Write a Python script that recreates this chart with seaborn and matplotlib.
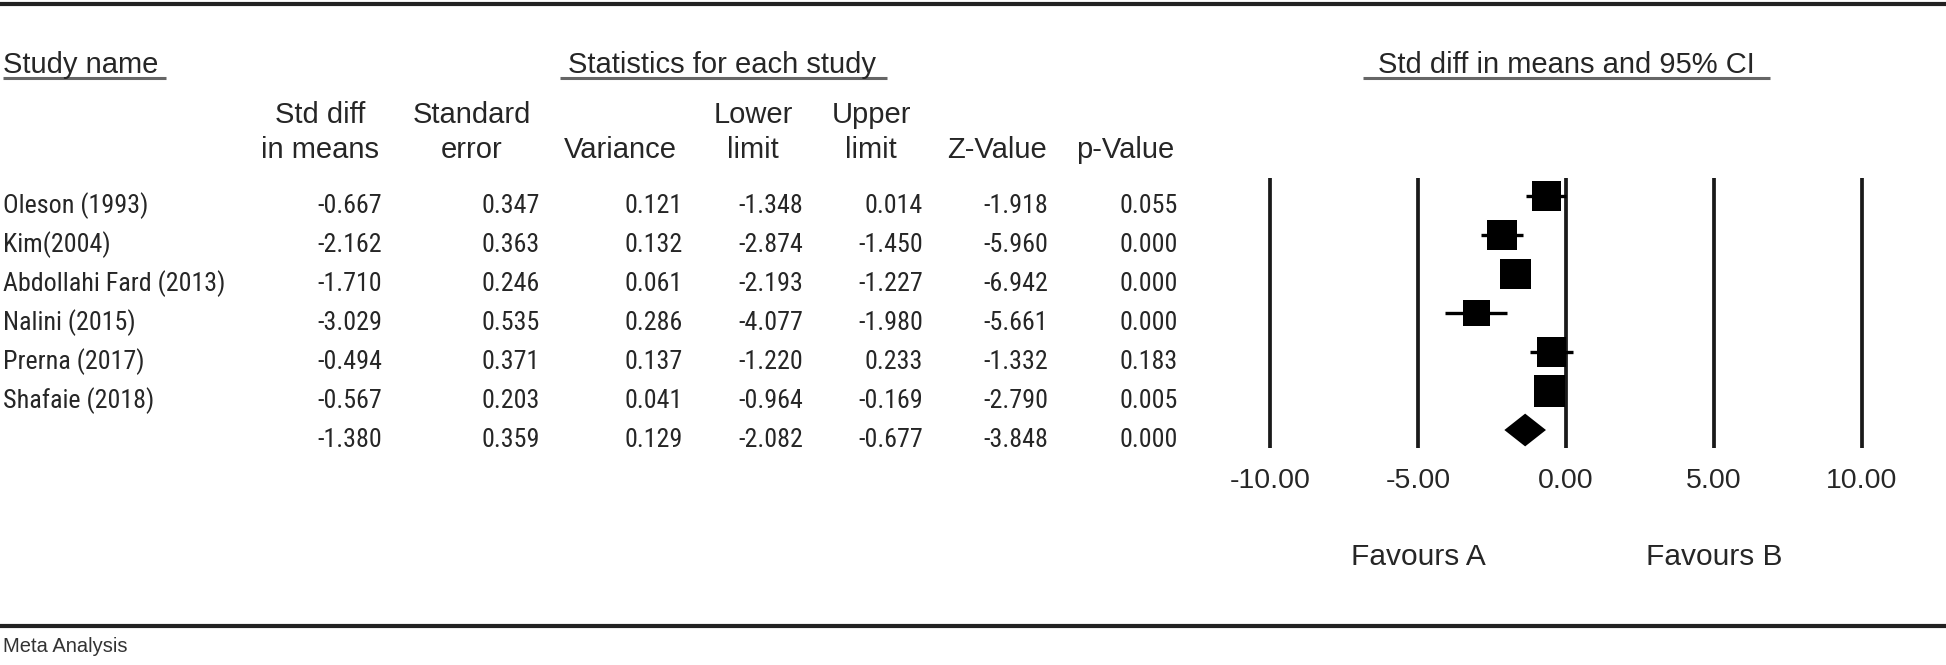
import numpy as np
import pandas as pd
import matplotlib
matplotlib.use("Agg")
import matplotlib.pyplot as plt
import seaborn as sns
from matplotlib import transforms
from matplotlib import font_manager as fm

studies = ["Oleson (1993)", "Kim(2004)", "Abdollahi Fard (2013)", "Nalini (2015)",
           "Prerna (2017)", "Shafaie (2018)", ""]
std_diff = [-0.667, -2.162, -1.710, -3.029, -0.494, -0.567, -1.380]
std_err = [0.347, 0.363, 0.246, 0.535, 0.371, 0.203, 0.359]
variance = [0.121, 0.132, 0.061, 0.286, 0.137, 0.041, 0.129]
lower = [-1.348, -2.874, -2.193, -4.077, -1.220, -0.964, -2.082]
upper = [0.014, -1.450, -1.227, -1.980, 0.233, -0.169, -0.677]
z_value = [-1.918, -5.960, -6.942, -5.661, -1.332, -2.790, -3.848]
p_value = [0.055, 0.000, 0.000, 0.000, 0.183, 0.005, 0.000]

col_heads = [("Std diff", "in means"), ("Standard", "error"), ("", "Variance"),
             ("Lower", "limit"), ("Upper", "limit"), ("", "Z-Value"), ("", "p-Value")]
ticks = [-10, -5, 0, 5, 10]
favours = ["Favours A", "Favours B"]

df = pd.DataFrame({"study": studies, "es": std_diff, "se": std_err, "var": variance,
                   "lo": lower, "hi": upper, "z": z_value, "p": p_value})
df["row"] = np.arange(len(df))
ind = df.iloc[:-1].copy()
summ = df.iloc[-1]

# random effects weights (DerSimonian-Laird) -> box area
w = 1 / ind["var"]
ybar = (w * ind["es"]).sum() / w.sum()
Q = (w * (ind["es"] - ybar) ** 2).sum()
C = w.sum() - (w ** 2).sum() / w.sum()
tau2 = max(0, (Q - (len(ind) - 1)) / C)
ind["wt"] = 1 / (ind["var"] + tau2)

sns.set_theme(style="white")
plt.rcParams["font.family"] = ["Liberation Sans", "DejaVu Sans"]
W, H = 1946, 665

# look for a narrow font for the table body (the original is very condensed)
def is_regular(f):
    wt = f.weight if isinstance(f.weight, int) else {"normal": 400, "regular": 400, "book": 400}.get(str(f.weight).lower(), 700)
    return wt in (400, 500) and f.style == "normal"

narrow_path = None
prefs = ["Liberation Sans Narrow", "Arial Narrow", "Roboto Condensed", "DejaVu Sans", "Open Sans Condensed"]
for p in prefs:
    for f in fm.fontManager.ttflist:
        st = str(f.stretch).lower()
        if f.name == p and is_regular(f) and ("narrow" in p.lower() or "condensed" in p.lower() or "condensed" in st):
            narrow_path = f.fname
            break
    if narrow_path:
        break

def body_font(size):
    if narrow_path:
        return fm.FontProperties(fname=narrow_path, size=size)
    return fm.FontProperties(family="Liberation Sans", size=size)

fig = plt.figure(figsize=(W / 100, H / 100), dpi=100)
tab = fig.add_axes([0, 0, 1, 1])
tab.set_xlim(0, W)
tab.set_ylim(H, 0)
tab.axis("off")

# size the body font so the longest name fits like in the original
rend = fig.canvas.get_renderer()
tmp = tab.text(0, 0, "Abdollahi Fard (2013)", fontproperties=body_font(21))
wpx = tmp.get_window_extent(rend).width
tmp.remove()
body_fs = min(21, 21 * 222 / wpx)

# rules
tab.plot([0, W], [4, 4], color="#222222", lw=3.0, solid_capstyle="butt")
tab.plot([0, W], [626, 626], color="#222222", lw=3.0, solid_capstyle="butt")

# top headers
hdr_fs = 21
tab.text(3, 73, "Study name", fontsize=hdr_fs, ha="left", va="baseline")
tab.text(722, 73, "Statistics for each study", fontsize=hdr_fs, ha="center", va="baseline")
tab.text(1566, 73, "Std diff in means and 95% CI", fontsize=hdr_fs, ha="center", va="baseline")
for x0, x1 in [(3, 166), (560, 887), (1363, 1770)]:
    tab.plot([x0, x1], [78, 78], color="#666666", lw=2.2, solid_capstyle="butt")

# column headers
head_x = [320, 472, 620, 753, 871, 997, 1125]
for x, (l1, l2) in zip(head_x, col_heads):
    if l1:
        tab.text(x, 123, l1, fontsize=hdr_fs, ha="center", va="baseline")
    tab.text(x, 158, l2, fontsize=hdr_fs, ha="center", va="baseline")

# table body
right_x = [382, 540, 683, 803, 923, 1048, 1178]
cols = ["es", "se", "var", "lo", "hi", "z", "p"]
for i, r in df.iterrows():
    yb = 213 + 39 * r["row"]
    tab.text(3, yb, r["study"], fontproperties=body_font(body_fs), ha="left", va="baseline")
    for x, c in zip(right_x, cols):
        tab.text(x, yb, f"{r[c]:.3f}", fontproperties=body_font(body_fs), ha="right", va="baseline")

tab.text(3, 652, "Meta Analysis", fontsize=14.5, color="#333333", ha="left", va="baseline")

# forest plot
ax = fig.add_axes([1240.4 / W, 1 - 460 / H, 651.2 / W, 290 / H])
ax.patch.set_alpha(0)
ax.set_xlim(-11, 11)
ax.set_ylim(6.769, -0.667)
ax.vlines(ticks, -0.46, 6.46, color="#1a1a1a", lw=2.7)
ax.hlines(ind["row"], ind["lo"], ind["hi"], color="black", lw=2.4)
sns.scatterplot(data=ind, x="es", y="row", size="wt", sizes=(0, 500),
                size_norm=(0, ind["wt"].max()), marker="s", color="black",
                linewidth=0, legend=False, ax=ax, zorder=3)
h = 0.42
ax.fill([summ["lo"], summ["es"], summ["hi"], summ["es"]],
        [summ["row"], summ["row"] - h, summ["row"], summ["row"] + h],
        color="black", lw=0, zorder=3)
ax.set_xticks(ticks)
ax.set_xticklabels([f"{t:.2f}" for t in ticks])
ax.set_yticks([])
ax.tick_params(axis="x", length=0, pad=6, labelsize=20.5)
ax.set_xlabel("")
ax.set_ylabel("")
for s in ax.spines.values():
    s.set_visible(False)

blend = transforms.blended_transform_factory(ax.transData, tab.transData)
for x, lab in zip([-5, 5], favours):
    ax.text(x, 557, lab, transform=blend, fontsize=21.5, ha="center", va="center")

fig.savefig("out.png", dpi=100)
